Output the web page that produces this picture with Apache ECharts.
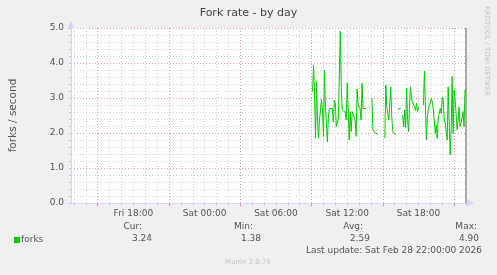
<!DOCTYPE html>
<html><head><meta charset="utf-8">
<script src="https://cdn.jsdelivr.net/npm/echarts@6/dist/echarts.min.js"></script>
<style>html,body{margin:0;padding:0;background:#f0f0f0}#c{width:497px;height:275px}</style>
</head><body><div id="c"></div>
<script>
const chartTitle = 'Fork rate - by day';
const yAxisTitle = 'forks / second';
const seriesName = 'forks';
const xTickHours = [18, 24, 30, 36, 42];
const xTickLabels = ['Fri 18:00', 'Sat 00:00', 'Sat 06:00', 'Sat 12:00', 'Sat 18:00'];
const xMajorGridHours = [15, 21, 27, 33, 39, 45];
const xMinorGridHours = [13, 14, 16, 17, 18, 19, 20, 22, 23, 24, 25, 26, 28, 29, 30, 31, 32, 34, 35, 36, 37, 38, 40, 41, 42, 43, 44, 46];
const lastSampleHour = 46;          // Sat 22:00, hours since Fri 00:00
const sampleStepHours = 5 / 60;     // 5-minute samples
const forksValues = [
  3.18, 3.94, 3.18, 1.85, 3.47, 2.40, 1.85, 2.37, 2.37, 2.96,
  2.66, 1.90, 3.80, 2.75, 2.75, 1.75, 2.47, 2.70, 2.70, 2.70,
  2.70, 2.32, 2.94, 2.85, 2.18, 2.13, 2.40, 3.60, 4.90, 3.30,
  2.66, 2.68, 2.70, 2.61, 2.37, 3.42, 2.66, 1.80, 2.61, 2.04,
  2.61, 2.66, 2.66, 2.37, 1.90, 3.25, 2.80, 2.80, 2.70, 2.37,
  3.42, 2.70, 2.66, 2.66, 2.70, null, null, 2.73, 2.73, null,
  2.99, 2.09, 2.04, 2.01, 1.99, 1.96, 1.96, null, null, null,
  null, null, null, 1.85, 3.37, 2.75, 2.73, 2.37, 2.37, 3.32,
  2.47, 2.04, 1.99, 1.96, 1.96, null, 2.68, 2.70, 2.70, 2.70,
  null, 2.51, 2.18, 2.66, 2.16, 3.28, 2.37, 2.04, 2.85, 3.32,
  2.96, 2.96, 2.96, 2.75, 2.64, 2.85, 2.61, 2.73, 2.73, null,
  null, null, 2.80, 3.77, 2.75, 1.80, 2.47, 2.68, 2.66, 2.70,
  2.99, 2.87, 2.66, 2.64, 1.99, 2.23, 1.85, 2.47, 2.56, 2.70,
  2.56, 3.02, 2.94, 2.37, 2.28, 2.32, 1.80, 3.32, 2.28, 1.38,
  2.09, 3.61, 1.99, 3.23, 2.94, 2.56, 2.09, 2.37, 2.75, 2.18,
  2.28, 2.28, 2.61, 2.18, 3.23, 3.24
];
const statLabels = ['Cur:', 'Min:', 'Avg:', 'Max:'];
const statValues = ['3.24', '1.38', '2.59', '4.90'];
const lastUpdateText = 'Last update: Sat Feb 28 22:00:00 2026';
const footerText = 'Munin 2.0.76';
const watermarkText = 'RRDTOOL / TOBI OETIKER';

const FONT = 'DejaVu Sans';
const GREEN = '#00cc00';
const TXT = '#555555';
const AXIS = '#d2d2fa';
const X_MAX = 46 + 1 / 12;
const X_MIN = X_MAX - 400 / 12;

const seriesData = forksValues.map((v, i) =>
  [lastSampleHour - (forksValues.length - 1 - i) * sampleStepHours, v]);

const chart = echarts.init(document.getElementById('c'), null, {renderer: 'canvas'});

const statLabelX = [142, 253, 363, 477];
const statValueX = [152, 261, 370, 479];
const graphics = [
  {type: 'rect', shape: {x: 14, y: 237, width: 6, height: 6}, style: {fill: GREEN}},
  {type: 'text', x: 21, y: 240, style: {text: seriesName, font: '9px ' + FONT, fill: TXT, align: 'left', verticalAlign: 'middle'}},
  {type: 'text', x: 482, y: 251, style: {text: lastUpdateText, font: '9px ' + FONT, fill: TXT, align: 'right', verticalAlign: 'middle'}},
  {type: 'text', x: 248, y: 262, style: {text: footerText, font: '7px ' + FONT, fill: '#c4c4c4', align: 'center', verticalAlign: 'middle'}},
  {type: 'text', x: 487, y: 51, rotation: -Math.PI / 2, style: {text: watermarkText, font: '7px ' + FONT, fill: '#c4c4c4', align: 'center', verticalAlign: 'middle'}}
];
statLabels.forEach((s, i) => {
  graphics.push({type: 'text', x: statLabelX[i], y: 227, style: {text: s, font: '9px ' + FONT, fill: TXT, align: 'right', verticalAlign: 'middle'}});
  graphics.push({type: 'text', x: statValueX[i], y: 239, style: {text: statValues[i], font: '9px ' + FONT, fill: TXT, align: 'right', verticalAlign: 'middle'}});
});

const minorGrid = {show: true, lineStyle: {color: '#d0d0d0', width: 1, type: [1, 2]}};
const majorGrid = {show: true, lineStyle: {color: '#e09a9a', width: 1, type: [1, 2]}};

chart.setOption({
  backgroundColor: '#f0f0f0',
  animation: false,
  textStyle: {fontFamily: FONT},
  title: {
    text: chartTitle, left: 'center', top: 3,
    textStyle: {fontSize: 11, fontWeight: 'normal', color: '#444', fontFamily: FONT}
  },
  grid: {left: 67, right: 30, top: 28, bottom: 72, show: true, backgroundColor: '#ffffff', borderWidth: 0},
  xAxis: [
    {
      type: 'value', min: X_MIN, max: X_MAX, position: 'bottom', z: 3,
      axisLine: {show: true, lineStyle: {color: AXIS, width: 1}, symbol: ['none', 'arrow'], symbolSize: [6, 8], symbolOffset: [0, 7]},
      axisTick: {show: true, customValues: xMinorGridHours, length: 2, lineStyle: {color: '#c0c0c0'}},
      axisLabel: {
        show: true, customValues: xTickHours, margin: 6,
        fontSize: 9, color: TXT, fontFamily: FONT,
        formatter: v => { const k = xTickHours.indexOf(Math.round(v)); return k >= 0 ? xTickLabels[k] : ''; }
      },
      splitLine: minorGrid
    },
    {
      type: 'value', min: X_MIN, max: X_MAX, position: 'bottom', z: 2,
      axisLine: {show: false},
      axisTick: {show: true, customValues: xMajorGridHours, length: 3, lineStyle: {color: '#e08080'}},
      axisLabel: {show: false},
      splitLine: majorGrid
    }
  ],
  yAxis: {
    type: 'value', min: 0, max: 5, interval: 1,
    name: yAxisTitle, nameLocation: 'middle', nameGap: 52,
    nameTextStyle: {fontSize: 10.5, color: TXT, fontFamily: FONT},
    axisLine: {show: true, lineStyle: {color: AXIS, width: 1}, symbol: ['none', 'arrow'], symbolSize: [6, 8], symbolOffset: [0, 7]},
    axisTick: {show: true, length: 2, lineStyle: {color: '#c0c0c0'}},
    minorTick: {show: true, splitNumber: 5, length: 2, lineStyle: {color: '#c0c0c0'}},
    axisLabel: {margin: 7, fontSize: 9, color: TXT, fontFamily: FONT, formatter: v => v.toFixed(1)},
    splitLine: majorGrid,
    minorSplitLine: minorGrid
  },
  series: [{
    name: seriesName, type: 'line', xAxisIndex: 0, data: seriesData,
    showSymbol: false, connectNulls: false, z: 5,
    lineStyle: {color: GREEN, width: 1},
    itemStyle: {color: GREEN},
    markLine: {
      silent: true, symbol: ['none', 'none'], label: {show: false},
      lineStyle: {color: '#909090', width: 1.5, type: 'solid'},
      data: [{xAxis: lastSampleHour}]
    }
  }],
  graphic: graphics
});
</script></body></html>
